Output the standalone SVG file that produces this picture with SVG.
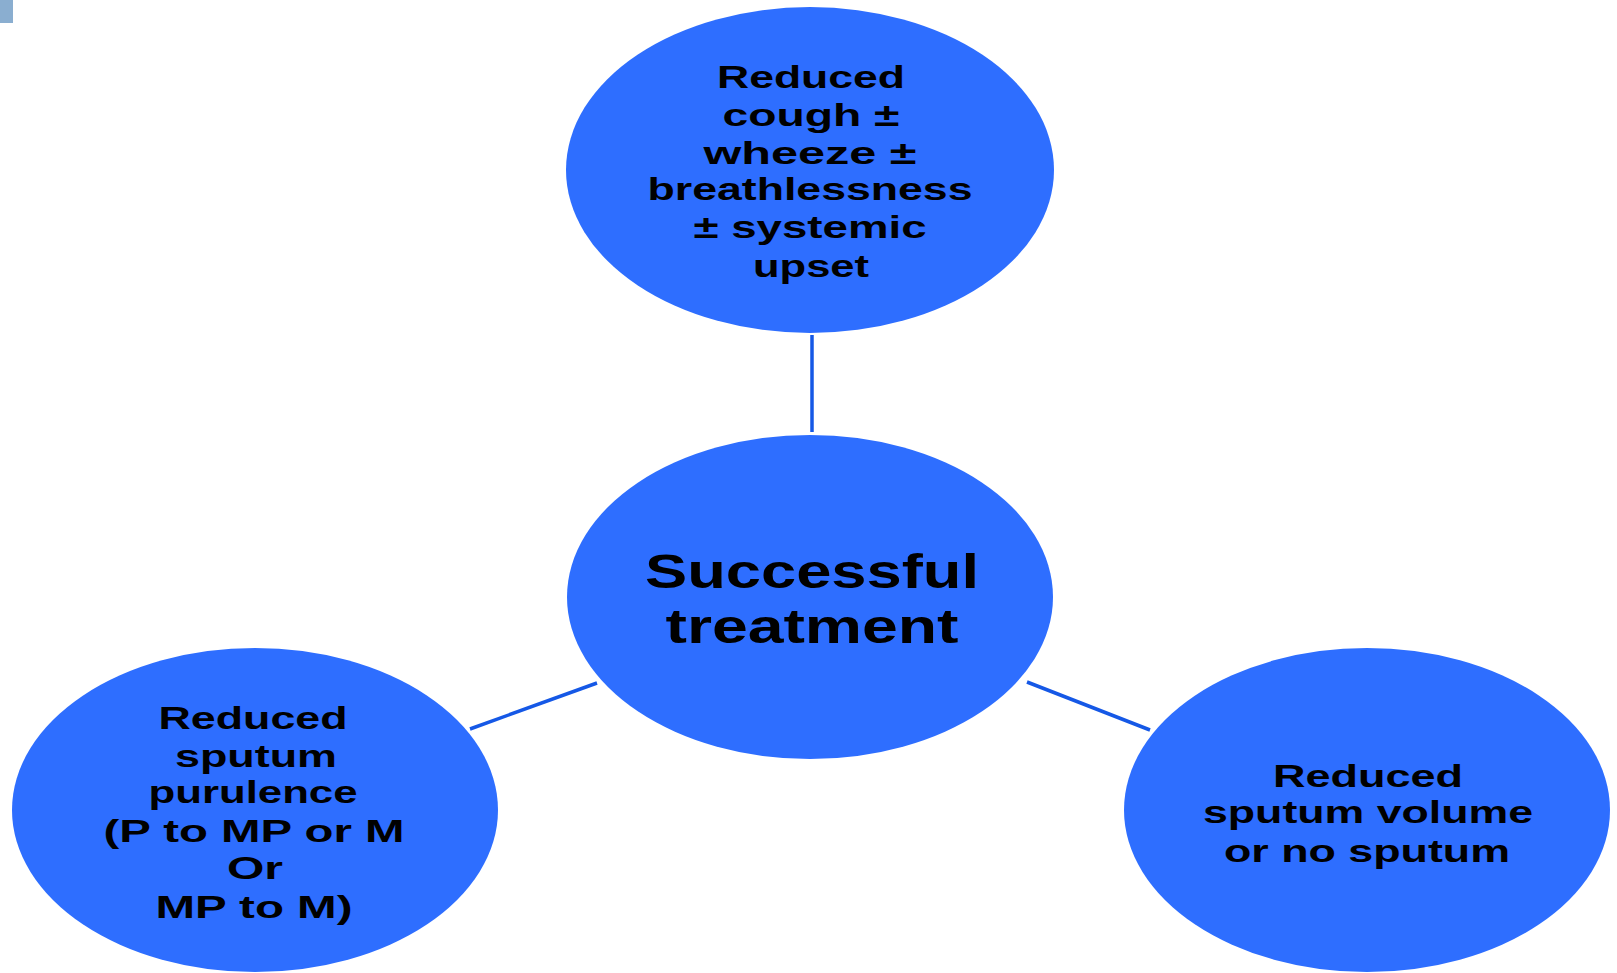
<svg xmlns="http://www.w3.org/2000/svg" width="1617" height="973" viewBox="0 0 1617 973">
<style>
.node{fill:#2e6eff;}
.t{font-family:"Liberation Sans",Arial,sans-serif;font-weight:bold;font-size:32px;fill:#000;text-anchor:middle;}
.big{font-size:48px;}
.conn line{stroke:#1558e6;stroke-width:3.5;}
</style>
<rect x="0" y="0" width="13" height="23" fill="#8aaed0"/>
<g id="connectors" class="conn">
<line x1="812" y1="335" x2="812" y2="432"/>
<line x1="597" y1="683" x2="470" y2="729"/>
<line x1="1027" y1="682" x2="1150" y2="730"/>
</g>
<g id="node-top">
<ellipse class="node" cx="810" cy="170" rx="244" ry="163"/>
<text class="t" x="811" y="88" textLength="188" lengthAdjust="spacingAndGlyphs">Reduced</text>
<text class="t" x="811" y="126" textLength="177" lengthAdjust="spacingAndGlyphs">cough ±</text>
<text class="t" x="810" y="164" textLength="213" lengthAdjust="spacingAndGlyphs">wheeze ±</text>
<text class="t" x="810" y="200" textLength="325" lengthAdjust="spacingAndGlyphs">breathlessness</text>
<text class="t" x="810" y="238" textLength="233" lengthAdjust="spacingAndGlyphs">± systemic</text>
<text class="t" x="811" y="277" textLength="116" lengthAdjust="spacingAndGlyphs">upset</text>
</g>
<g id="node-center">
<ellipse class="node" cx="810" cy="597" rx="243" ry="162"/>
<text class="t big" x="812" y="588" textLength="334" lengthAdjust="spacingAndGlyphs">Successful</text>
<text class="t big" x="812" y="643" textLength="293" lengthAdjust="spacingAndGlyphs">treatment</text>
</g>
<g id="node-left">
<ellipse class="node" cx="255" cy="810" rx="243" ry="162"/>
<text class="t" x="253" y="729" textLength="189" lengthAdjust="spacingAndGlyphs">Reduced</text>
<text class="t" x="256" y="767" textLength="162" lengthAdjust="spacingAndGlyphs">sputum</text>
<text class="t" x="253" y="803" textLength="209" lengthAdjust="spacingAndGlyphs">purulence</text>
<text class="t" x="254" y="842" textLength="301" lengthAdjust="spacingAndGlyphs">(P to MP or M</text>
<text class="t" x="255" y="879" textLength="56" lengthAdjust="spacingAndGlyphs">Or</text>
<text class="t" x="254" y="918" textLength="197" lengthAdjust="spacingAndGlyphs">MP to M)</text>
</g>
<g id="node-right">
<ellipse class="node" cx="1367" cy="810" rx="243" ry="162"/>
<text class="t" x="1368" y="787" textLength="190" lengthAdjust="spacingAndGlyphs">Reduced</text>
<text class="t" x="1368" y="823" textLength="330" lengthAdjust="spacingAndGlyphs">sputum volume</text>
<text class="t" x="1367" y="862" textLength="286" lengthAdjust="spacingAndGlyphs">or no sputum</text>
</g>
</svg>
